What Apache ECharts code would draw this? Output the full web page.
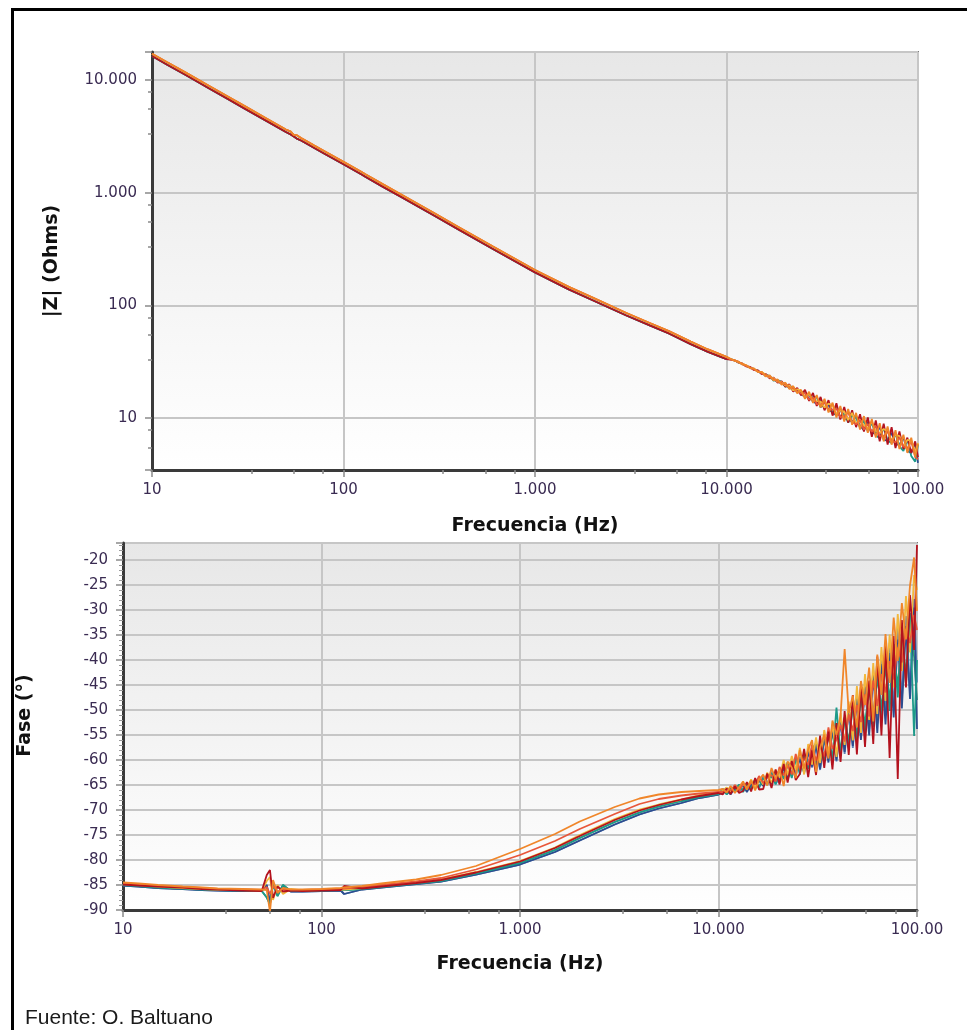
<!DOCTYPE html>
<html><head><meta charset="utf-8">
<script src="https://cdn.jsdelivr.net/npm/echarts@6/dist/echarts.min.js"></script>
<style>html,body{margin:0;padding:0;background:#fff}#c{width:967px;height:1030px}</style>
</head><body><div id="c"></div>
<script>
// ---- frequencies (Hz) ----
const freqLow = [10, 12, 15, 20, 25, 30, 40, 50, 53, 55, 57, 60, 64, 70, 80, 100, 125, 130, 160, 200, 300, 400, 600, 1000, 1500, 2000, 3000, 4000, 5000, 6500, 8000, 10000];
const freqHigh = [10500, 11000, 11500, 12100, 12700, 13300, 13900, 14600, 15300, 16000, 16800, 17600, 18500, 19400, 20300, 21300, 22300, 23400, 24500, 25700, 27000, 28300, 29600, 31000, 32500, 34100, 35800, 37500, 39300, 41200, 43200, 45300, 47500, 49800, 52200, 54700, 57400, 60200, 63100, 66200, 69400, 72800, 76300, 80000, 83900, 88000, 92200, 96700, 100000];

// ---- |Z| (Ohms), low-frequency part (two nearly coincident traces) ----
const zLowUp = [17100, 14350, 11630, 8800, 7100, 5950, 4510, 3640, 3480, 3260, 3240, 3050, 2870, 2630, 2320, 1875, 1515, 1455, 1190, 963, 653, 494, 334, 206, 146, 117, 85.5, 69.4, 59.1, 47.6, 40.6, 34.9];
const zLowDn = [16300, 13650, 11070, 8370, 6760, 5660, 4290, 3460, 3280, 3150, 3020, 2905, 2730, 2505, 2205, 1785, 1443, 1385, 1131, 917, 621, 470, 318, 196, 138.5, 111, 81.3, 66.0, 56.3, 45.3, 38.6, 33.3];
// ---- |Z| high-frequency (noisy) part, one per measurement ----
const zHighO = [33.6, 32.2, 31.8, 29.9, 29.4, 27.6, 27.6, 25.6, 25.7, 23.4, 23.9, 21.6, 22.0, 19.8, 20.6, 18.1, 19.2, 16.6, 17.8, 14.8, 17.1, 13.6, 16.0, 12.4, 14.8, 11.2, 13.7, 10.1, 12.8, 9.3, 12.0, 8.7, 11.1, 7.9, 10.4, 7.4, 9.8, 6.7, 9.0, 6.2, 8.4, 5.8, 7.8, 5.3, 7.1, 4.9, 6.7, 4.5, 5.9];
const zHighRO = [33.1, 32.4, 31.6, 30.1, 28.9, 28.1, 27.0, 26.1, 24.8, 24.2, 23.3, 22.1, 21.4, 20.4, 19.9, 18.7, 18.5, 17.2, 16.5, 16.6, 14.5, 15.2, 13.3, 13.2, 13.7, 11.9, 11.9, 12.2, 10.2, 10.3, 11.2, 9.2, 8.8, 9.6, 7.9, 8.85, 7.55, 8.5, 6.95, 6.9, 7.6, 6.2, 6.1, 6.7, 5.6, 5.4, 6.2, 4.5, 4.3];
const zHighR = [33.0, 32.8, 31.1, 30.5, 28.7, 28.4, 26.7, 26.4, 24.5, 24.6, 22.5, 22.8, 20.6, 21.2, 18.9, 19.9, 17.2, 18.5, 15.9, 17.8, 14.2, 16.7, 12.8, 15.4, 11.7, 14.4, 10.5, 13.5, 9.7, 12.5, 9.1, 11.7, 8.3, 10.8, 7.6, 10.1, 6.8, 9.5, 6.2, 8.9, 5.8, 8.3, 5.4, 7.6, 5.3, 6.7, 4.9, 6.2, 4.5];
const zHighT = [33.2, 32.6, 31.2, 30.3, 28.8, 28.2, 26.9, 26.3, 24.6, 24.4, 23.6, 21.5, 21.7, 20.9, 19.0, 19.3, 18.6, 16.9, 17.1, 16.9, 14.4, 15.4, 15.3, 12.4, 14.0, 11.8, 11.3, 12.8, 10.1, 11.0, 9.1, 10.6, 10.1, 8.2, 9.5, 7.6, 9.1, 7.0, 6.6, 8.2, 6.3, 6.0, 7.2, 5.6, 5.1, 6.5, 4.6, 4.1, 5.8];
const zHighB = [33.4, 32.3, 31.5, 30.0, 29.1, 27.8, 27.3, 25.7, 25.3, 23.6, 23.4, 22.0, 21.1, 20.2, 20.1, 18.3, 18.4, 17.8, 16.2, 15.5, 16.1, 13.9, 13.5, 14.3, 12.1, 13.1, 11.1, 10.6, 12.0, 9.8, 9.8, 9.2, 10.4, 8.5, 7.8, 9.2, 7.3, 7.4, 8.3, 6.4, 6.3, 7.4, 5.8, 5.8, 6.7, 5.1, 4.9, 6.0, 4.0];
const zHighG = [33.3, 32.7, 31.3, 30.4, 29.2, 27.9, 27.4, 25.8, 25.4, 24.3, 22.9, 22.6, 21.0, 20.8, 19.4, 19.5, 17.6, 18.0, 17.4, 15.3, 16.3, 14.3, 14.1, 14.0, 12.4, 13.4, 12.9, 10.9, 11.7, 11.4, 9.6, 11.1, 8.9, 9.6, 8.6, 8.1, 9.3, 7.7, 7.4, 8.0, 7.6, 6.3, 7.1, 6.9, 5.6, 6.4, 6.3, 5.0, 6.0];

// ---- Phase (deg), low-frequency part ----
const phLowO = [-84.5, -84.7, -85.0, -85.3, -85.5, -85.7, -85.8, -85.9, -86.0, -90.4, -84.0, -86.6, -85.6, -85.9, -85.9, -85.8, -85.6, -85.5, -85.2, -84.7, -83.9, -83.0, -81.2, -77.8, -74.8, -72.3, -69.4, -67.7, -66.9, -66.4, -66.2, -66.0];
const phLowRO = [-84.7, -84.9, -85.2, -85.4, -85.6, -85.8, -85.9, -86.0, -85.4, -86.8, -85.2, -86.3, -85.9, -86.0, -86.0, -85.9, -85.8, -85.7, -85.4, -85.0, -84.3, -83.6, -81.9, -79.0, -76.2, -73.8, -70.8, -68.8, -67.8, -67.1, -66.7, -66.4];
const phLowR = [-84.9, -85.1, -85.3, -85.5, -85.8, -85.9, -86.1, -86.2, -83.0, -82.0, -87.6, -85.3, -86.3, -86.1, -86.2, -86.1, -86.0, -85.2, -85.7, -85.3, -84.6, -84.0, -82.5, -80.3, -77.6, -75.2, -72.0, -70.1, -69.0, -67.9, -67.2, -66.6];
const phLowT = [-85.0, -85.2, -85.5, -85.7, -85.9, -86.0, -86.1, -86.2, -87.5, -88.8, -84.9, -87.2, -85.0, -86.2, -86.2, -86.1, -86.0, -86.0, -85.8, -85.4, -84.7, -84.2, -82.7, -80.6, -78.0, -75.6, -72.4, -70.5, -69.3, -68.2, -67.4, -66.8];
const phLowB = [-85.1, -85.3, -85.6, -85.8, -86.0, -86.1, -86.2, -86.2, -85.0, -88.5, -84.6, -86.9, -85.2, -86.3, -86.3, -86.2, -86.1, -86.8, -85.9, -85.5, -84.8, -84.3, -82.9, -80.9, -78.4, -76.1, -72.9, -70.9, -69.7, -68.6, -67.6, -66.9];
const phLowG = [-84.8, -85.0, -85.3, -85.6, -85.8, -85.9, -86.0, -86.1, -84.2, -83.4, -88.0, -85.0, -86.8, -85.8, -86.1, -86.0, -85.9, -85.9, -85.6, -85.2, -84.5, -83.9, -82.4, -80.2, -77.5, -75.0, -71.8, -69.9, -68.9, -67.9, -67.0, -66.5];
// ---- Phase high-frequency (noisy) part ----
const phHighO = [-65.8, -66.5, -65.2, -66.6, -65.4, -64.3, -65.9, -64.1, -66.1, -64.0, -62.9, -65.1, -61.6, -63.8, -61.9, -65.2, -60.3, -61.5, -63.6, -58.0, -61.7, -57.9, -56.0, -62.4, -57.6, -54.9, -59.7, -52.1, -55.0, -51.2, -37.8, -50.6, -47.1, -53.5, -44.2, -49.0, -41.5, -52.3, -38.9, -47.0, -34.8, -44.6, -31.5, -40.2, -28.6, -35.9, -25.1, -19.5, -30.2];
const phHighRO = [-66.4, -65.9, -66.1, -65.0, -66.2, -64.6, -65.8, -64.5, -64.9, -63.2, -64.6, -63.5, -63.0, -64.3, -61.4, -63.1, -61.0, -62.9, -58.8, -62.0, -59.6, -61.0, -56.9, -60.2, -57.0, -59.3, -53.5, -57.8, -55.9, -53.0, -56.3, -50.9, -54.2, -49.0, -52.4, -46.9, -51.3, -44.1, -49.2, -42.8, -46.5, -40.2, -43.9, -37.5, -40.5, -33.8, -36.6, -31.0, -34.0];
const phHighR = [-66.9, -65.7, -66.8, -65.3, -66.6, -66.2, -64.4, -66.3, -63.6, -65.9, -65.8, -62.7, -65.6, -61.9, -64.9, -60.8, -64.5, -60.2, -64.0, -62.8, -57.8, -63.4, -58.1, -63.0, -55.1, -61.6, -54.3, -61.9, -52.6, -60.4, -50.2, -59.0, -47.0, -58.9, -45.0, -57.4, -44.1, -56.8, -39.3, -55.1, -37.0, -59.6, -35.2, -63.8, -32.0, -45.5, -27.0, -38.0, -17.0];
const phHighT = [-66.0, -66.9, -65.6, -66.3, -64.9, -66.4, -65.0, -65.8, -64.2, -65.5, -63.6, -65.0, -62.6, -64.9, -62.0, -63.8, -60.9, -63.6, -59.5, -62.9, -58.6, -61.8, -57.4, -61.3, -56.5, -60.2, -54.8, -59.9, -49.5, -59.1, -51.4, -57.3, -48.6, -56.2, -46.1, -55.0, -44.3, -53.4, -42.5, -51.7, -40.1, -50.2, -36.8, -47.5, -34.2, -44.9, -30.6, -55.2, -40.0];
const phHighB = [-66.6, -66.0, -66.9, -65.6, -66.1, -65.0, -66.4, -64.8, -65.4, -63.9, -65.2, -63.1, -64.8, -62.4, -64.4, -61.5, -63.9, -60.6, -62.2, -59.8, -62.5, -58.4, -61.3, -56.8, -61.8, -55.2, -60.5, -53.5, -60.1, -51.8, -58.4, -49.6, -57.2, -47.8, -56.0, -45.4, -55.1, -43.0, -54.6, -40.8, -52.9, -38.6, -51.5, -35.9, -49.7, -33.2, -47.8, -29.5, -53.8];
const phHighG = [-66.2, -65.5, -66.4, -65.1, -65.9, -64.8, -65.6, -63.9, -65.5, -63.4, -64.9, -62.5, -64.6, -62.0, -63.5, -60.0, -63.0, -59.2, -62.1, -57.6, -62.9, -56.8, -60.9, -55.5, -60.6, -54.0, -58.6, -52.8, -59.4, -50.6, -57.0, -48.3, -56.1, -45.2, -54.6, -42.8, -52.0, -40.6, -50.8, -37.4, -48.2, -34.9, -45.5, -30.8, -42.2, -27.2, -38.5, -23.0, -26.0];
const phHighS = [-65.7, -66.8, -66.3, -65.1, -66.5, -64.7, -65.9, -65.6, -63.9, -65.7, -63.2, -64.9, -62.3, -64.8, -63.6, -61.0, -63.9, -60.5, -63.2, -59.4, -62.6, -58.1, -61.5, -57.0, -62.0, -55.9, -59.7, -53.6, -60.3, -52.4, -58.8, -49.9, -57.6, -46.8, -55.5, -45.1, -53.9, -42.0, -52.7, -39.8, -50.5, -36.6, -49.6, -33.5, -48.0, -31.2, -46.4, -27.8, -44.5];
const phHighGR = [-66.1, -65.6, -66.7, -65.4, -65.2, -66.0, -64.6, -65.5, -64.0, -64.2, -65.1, -62.9, -63.4, -64.5, -61.8, -62.9, -60.4, -62.8, -60.0, -62.3, -58.7, -60.9, -58.0, -56.6, -60.4, -55.5, -58.9, -55.0, -53.2, -58.1, -51.6, -56.4, -49.0, -55.3, -47.6, -52.8, -45.9, -51.1, -43.6, -49.5, -41.4, -47.8, -38.9, -45.0, -36.3, -42.6, -33.1, -39.4, -48.0];

// ---- tick labels ----
const freqTickLabels = ['10', '100', '1.000', '10.000', '100.00'];      // exponents 1..5
const zTickLabels = ['10', '100', '1.000', '10.000'];                    // exponents 1..4
const minorFreqTicks = [33, 55, 78, 330, 550, 780, 3300, 5500, 7800, 33000, 55000, 78000];
const minorZTicks = [5.5, 7.8, 33, 55, 78, 330, 550, 780, 3300, 5500, 7800];

const colors = { B: '#2c4d8f', T: '#1d9a8a', R: '#b3121e', G: '#f2b83c', RO: '#e8573a', O: '#f0862a', S: '#5b80b6', GR: '#2f9e6e' };

const freqAll = freqLow.concat(freqHigh);
function pairs(vals) { return freqAll.map((f, i) => [f, vals[i]]); }

function logLabel(list, firstExp) {
  return function (v) {
    const e = Math.log10(v);
    const r = Math.round(e);
    if (Math.abs(e - r) > 1e-6) return '';
    return list[r - firstExp] || '';
  };
}

const labelStyle = { color: '#3a2b52', fontFamily: 'DejaVu Sans', fontSize: 15 };
const nameStyle = { color: '#111', fontFamily: 'DejaVu Sans', fontSize: 19, fontWeight: 'bold' };
const axisLineStyle = { show: true, onZero: false, lineStyle: { color: '#3a3a3a', width: 3 } };
const splitStyle = { show: true, lineStyle: { color: '#c6c6c6', width: 2 } };
const tickStyle = { show: true, length: 7, lineStyle: { color: '#8a8a8a', width: 1.5 } };
const bg = new echarts.graphic.LinearGradient(0, 0, 0, 1, [
  { offset: 0, color: '#e7e7e7' }, { offset: 1, color: '#ffffff' }]);
const bg2 = new echarts.graphic.LinearGradient(0, 0, 0, 1, [
  { offset: 0, color: '#e7e7e7' }, { offset: 1, color: '#ffffff' }]);

const magSets = [
  ['B', zLowDn, zHighB], ['T', zLowDn, zHighT], ['R', zLowDn, zHighR],
  ['G', zLowUp, zHighG], ['RO', zLowUp, zHighRO], ['O', zLowUp, zHighO]];
const phSets = [
  ['S', phLowB, phHighS], ['GR', phLowT, phHighGR],
  ['B', phLowB, phHighB], ['T', phLowT, phHighT], ['G', phLowG, phHighG],
  ['RO', phLowRO, phHighRO], ['R', phLowR, phHighR], ['O', phLowO, phHighO]];

const series = [];
magSets.forEach(([k, lo, hi]) => series.push({
  type: 'line', xAxisIndex: 0, yAxisIndex: 0, data: pairs(lo.concat(hi)),
  showSymbol: false, silent: true, color: colors[k], lineStyle: { width: 1.8, color: colors[k] }
}));
phSets.forEach(([k, lo, hi]) => series.push({
  type: 'line', xAxisIndex: 1, yAxisIndex: 1, data: pairs(lo.concat(hi)),
  showSymbol: false, silent: true, color: colors[k], lineStyle: { width: 1.8, color: colors[k] }
}));

const chart = echarts.init(document.getElementById('c'), null, { renderer: 'canvas' });
chart.setOption({
  animation: false,
  backgroundColor: '#ffffff',
  grid: [
    { left: 152, top: 52, width: 766, height: 418, show: true, backgroundColor: bg, borderColor: '#7b7b7b', borderWidth: 2 },
    { left: 123, top: 543, width: 794, height: 367, show: true, backgroundColor: bg2, borderColor: '#7b7b7b', borderWidth: 2 }
  ],
  xAxis: [
    { type: 'log', logBase: 10, gridIndex: 0, min: 10, max: 100000, position: 'bottom',
      name: 'Frecuencia (Hz)', nameLocation: 'middle', nameGap: 47, nameTextStyle: nameStyle,
      axisLine: axisLineStyle, axisTick: tickStyle, splitLine: splitStyle,
      axisLabel: Object.assign({ margin: 13, formatter: logLabel(freqTickLabels, 1) }, labelStyle) },
    { type: 'log', logBase: 10, gridIndex: 1, min: 10, max: 100000, position: 'bottom',
      name: 'Frecuencia (Hz)', nameLocation: 'middle', nameGap: 45, nameTextStyle: nameStyle,
      axisLine: axisLineStyle, axisTick: tickStyle, splitLine: splitStyle,
      axisLabel: Object.assign({ margin: 13, formatter: logLabel(freqTickLabels, 1) }, labelStyle) },
    { type: 'log', logBase: 10, gridIndex: 0, min: 10, max: 100000, position: 'bottom',
      axisLine: { show: false }, axisLabel: { show: false }, splitLine: { show: false },
      axisTick: { show: true, customValues: minorFreqTicks, length: 4, lineStyle: { color: '#8a8a8a', width: 1.5 } } },
    { type: 'log', logBase: 10, gridIndex: 1, min: 10, max: 100000, position: 'bottom',
      axisLine: { show: false }, axisLabel: { show: false }, splitLine: { show: false },
      axisTick: { show: true, customValues: minorFreqTicks, length: 4, lineStyle: { color: '#8a8a8a', width: 1.5 } } }
  ],
  yAxis: [
    { type: 'log', logBase: 10, gridIndex: 0, min: 3.456, max: 17720, position: 'left',
      name: '|Z| (Ohms)', nameLocation: 'middle', nameGap: 90, nameTextStyle: nameStyle,
      axisLine: axisLineStyle, axisTick: tickStyle, splitLine: splitStyle,
      axisLabel: Object.assign({ margin: 15, formatter: logLabel(zTickLabels, 1) }, labelStyle) },
    { type: 'value', gridIndex: 1, min: -90, max: -16.6, interval: 5, position: 'left',
      name: 'Fase (°)', nameLocation: 'middle', nameGap: 88,
      nameTextStyle: Object.assign({ padding: [0, 0, 0, 22] }, nameStyle),
      axisLine: axisLineStyle, axisTick: tickStyle, splitLine: splitStyle,
      minorTick: { show: true, splitNumber: 5, length: 4, lineStyle: { color: '#9a9a9a', width: 1 } },
      axisLabel: Object.assign({ margin: 15, showMaxLabel: false,
        formatter: v => (Math.abs(v / 5 - Math.round(v / 5)) < 1e-6 ? String(v) : '') }, labelStyle) },
    { type: 'log', logBase: 10, gridIndex: 0, min: 3.456, max: 17720, position: 'left',
      axisLine: { show: false }, axisLabel: { show: false }, splitLine: { show: false },
      axisTick: { show: true, customValues: minorZTicks, length: 4, lineStyle: { color: '#8a8a8a', width: 1.5 } } }
  ],
  series: series,
  graphic: [
    { type: 'rect', left: 10, top: 7, silent: true, z: 100,
      shape: { x: 0, y: 0, width: 1000, height: 1100 },
      style: { fill: 'none', stroke: '#000', lineWidth: 3 } },
    { type: 'text', left: 25, top: 1008, silent: true, z: 100,
      style: { text: 'Fuente: O. Baltuano', fill: '#1a1a1a', font: '21px "Liberation Sans", Arial, sans-serif' } }
  ]
});
</script></body></html>
